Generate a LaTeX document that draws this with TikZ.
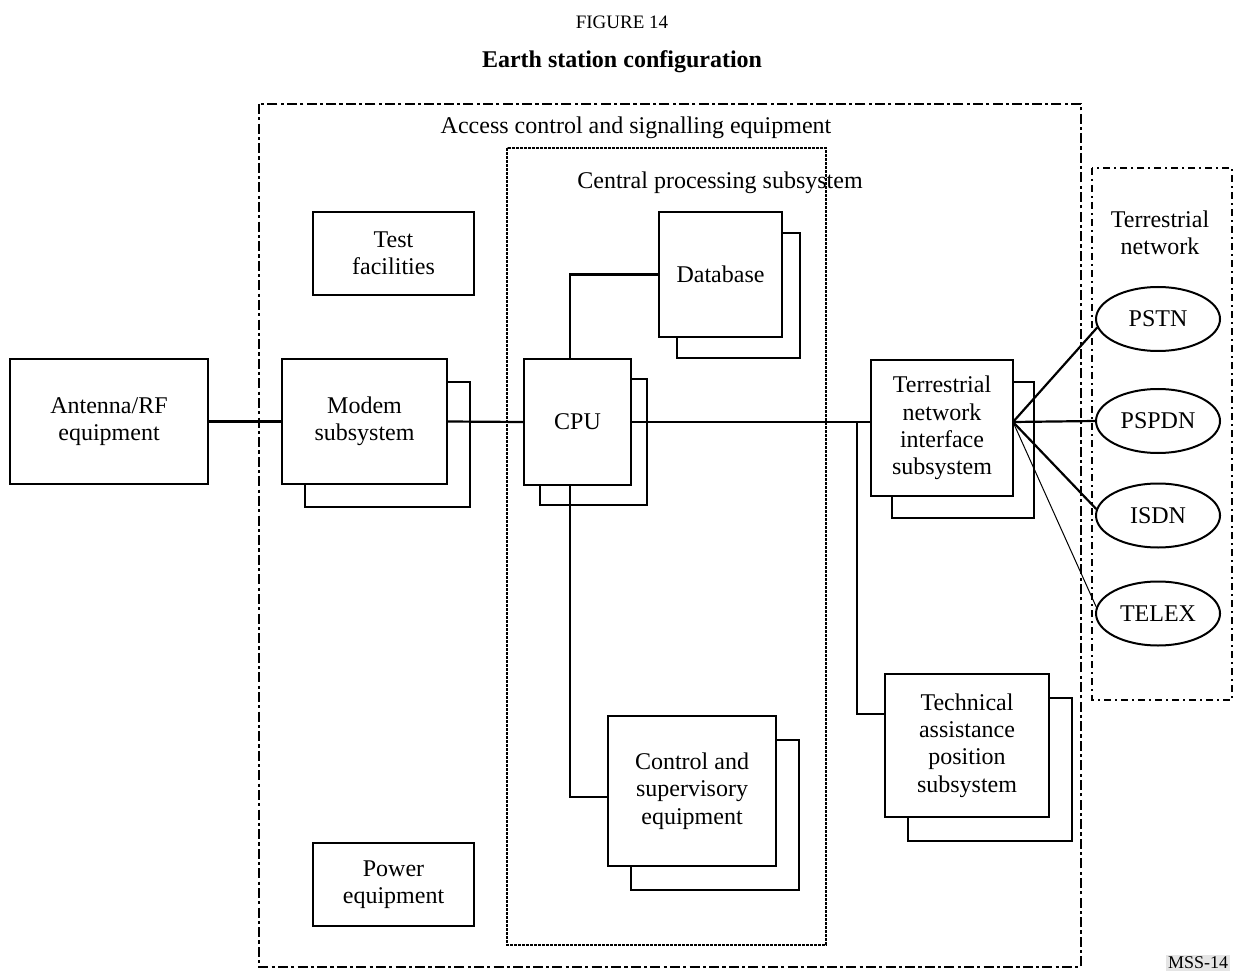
\documentclass[tikz,border=0pt]{standalone}
\usepackage{fontspec}
\setmainfont{Liberation Serif}
\usetikzlibrary{shapes.geometric}
\begin{document}
\begin{tikzpicture}[x=0.5pt,y=-0.5pt,
  lbl/.style={font=\fontsize{12}{13.7}\selectfont, align=center, inner sep=0pt},
  box/.style={draw, line width=0.9pt, fill=white, inner sep=0pt, align=center,
              font=\fontsize{12}{13.7}\selectfont},
  shadowbox/.style={draw, line width=0.9pt, fill=white, inner sep=0pt},
  net/.style={draw, ellipse, line width=1pt, fill=white, minimum width=62pt, minimum height=32pt,
              inner sep=0pt, font=\fontsize{12}{13.7}\selectfont},
  link/.style={line width=1.1pt},
  thinlink/.style={line width=0.5pt},
  outerframe/.style={line width=1.4pt, dash pattern=on 5pt off 1.6pt on 1.6pt off 1.6pt},
  cpuframe/.style={line width=1.1pt, dash pattern=on 1.3pt off 0.7pt},
  netframe/.style={line width=0.9pt, dash pattern=on 3.5pt off 2pt on 1pt off 2pt}]
\useasboundingbox (0,0) rectangle (1234,972);

% headings
\node[lbl, font=\fontsize{9.5}{11}\selectfont] (fig) at (622,22) {FIGURE 14};
\node[lbl, font=\bfseries\fontsize{12}{14}\selectfont] (title) at (622,62) {Earth station configuration};

% enclosing frames
\draw[outerframe] (259,104) rectangle (1081,967);
\node[lbl] (acse) at (636,128) {Access control and signalling equipment};
\draw[cpuframe] (507,148) rectangle (826,945);
\node[lbl] (cps) at (720,183) {Central processing subsystem};
\draw[netframe] (1092,168) rectangle (1232,700);
\node[lbl] (tn) at (1160,233) {Terrestrial\\network};

% shadow copies behind the duplicated units
\node[shadowbox, minimum width=82.5pt, minimum height=62.5pt] (modemS) at (387.5,444.5) {};
\node[shadowbox, minimum width=53.5pt, minimum height=63pt] (cpuS) at (593.5,442) {};
\node[shadowbox, minimum width=61.5pt, minimum height=62.5pt] (dbS) at (738.5,295.5) {};
\node[shadowbox, minimum width=84pt, minimum height=75pt] (ctrlS) at (715,815) {};
\node[shadowbox, minimum width=71pt, minimum height=68pt] (tnisS) at (963,450) {};
\node[shadowbox, minimum width=82pt, minimum height=71.5pt] (tapsS) at (990,769.5) {};

% units
\node[box, minimum width=99pt, minimum height=62.5pt] (ant) at (109,421.5) {Antenna/RF\\equipment};
\node[box, minimum width=80.5pt, minimum height=41.5pt] (test) at (393.5,253.5) {Test\\facilities};
\node[box, minimum width=80.5pt, minimum height=41.5pt] (power) at (393.5,884.5) {Power\\equipment};
\node[box, minimum width=82.5pt, minimum height=62.5pt] (modem) at (364.5,421.5) {Modem\\subsystem};
\node[box, minimum width=53.5pt, minimum height=63pt] (cpu) at (577.5,422) {CPU};
\node[box, minimum width=61.5pt, minimum height=62.5pt] (db) at (720.5,274.5) {Database};
\node[box, minimum width=84pt, minimum height=75pt] (ctrl) at (692,791) {Control and\\supervisory\\equipment};
\node[box, minimum width=71pt, minimum height=68pt] (tnis) at (942,428) {Terrestrial\\network\\interface\\subsystem};
\node[box, minimum width=82pt, minimum height=71.5pt] (taps) at (967,745.5) {Technical\\assistance\\position\\subsystem};

% terrestrial networks
\node[net] (pstn) at (1158,319) {PSTN};
\node[net] (pspdn) at (1158,421) {PSPDN};
\node[net] (isdn) at (1158,515.5) {ISDN};
\node[net] (telex) at (1158,613.5) {TELEX};

% connections
\coordinate (j) at (857,422);
\coordinate (fan) at (1013,422);
\draw[link] (ant.east) -- (modem.west);
\draw[link] (modem.east) -- (cpu.west);
\draw[link] (cpu.east) -- (cpu.east -| tnis.west);
\draw[link] (j) |- ([yshift=15.75pt]taps.west);
\draw[link] ([xshift=-3.75pt]cpu.north) |- (db.west);
\draw[link] ([xshift=-3.75pt]cpu.south) |- ([yshift=-3pt]ctrl.west);
\draw[link] (fan) -- (pstn.188);
\draw[link] (fan) -- (pspdn.west);
\draw[link] (fan) -- (isdn.174);
\draw[thinlink] (fan) -- (telex.174);

% drawing reference
\node[fill=black!10, inner sep=1pt, font=\fontsize{9}{10}\selectfont] (ref) at (1198,963) {MSS-14};
\end{tikzpicture}
\end{document}
